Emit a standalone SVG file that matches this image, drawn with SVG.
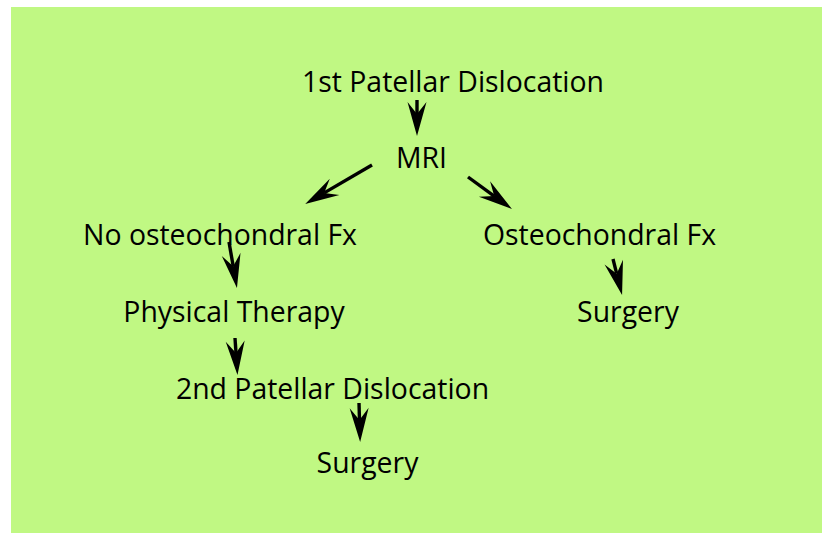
<svg xmlns="http://www.w3.org/2000/svg" width="828" height="533" viewBox="0 0 828 533">
<style>
.lbl{font-family:"Open Sans","Liberation Sans",sans-serif;font-size:28.4px;fill:#000;text-anchor:middle}
.cn{stroke:#000;stroke-width:3.4;fill:none;marker-end:url(#ah)}
</style>
<defs>
<marker id="ah" markerUnits="userSpaceOnUse" viewBox="-14 -10 36 20" refX="0" refY="0" markerWidth="36" markerHeight="20" orient="auto" overflow="visible">
<path d="M22,0 L-12,-9.5 L0,0 L-12,9.5 Z" fill="#000"/>
</marker>
</defs>
<rect x="11" y="7" width="811" height="526" fill="#c0f883"/>
<g id="connectors">
<path class="cn" d="M417,100 L417,114"/>
<path class="cn" d="M372,165 L324.2,192.9"/>
<path class="cn" d="M468,177 L494.2,196.1"/>
<path class="cn" d="M229,242 L233.2,266.3"/>
<path class="cn" d="M613,259 L616.7,273.7"/>
<path class="cn" d="M235,338 L236,353"/>
<path class="cn" d="M359,403 L359.5,420"/>
</g>
<g id="n1"><text class="lbl" x="453" y="92">1st Patellar Dislocation</text></g>
<g id="n2"><text class="lbl" x="421.5" y="168">MRI</text></g>
<g id="n3"><text class="lbl" x="220" y="245">No osteochondral Fx</text></g>
<g id="n4"><text class="lbl" x="599.5" y="245">Osteochondral Fx</text></g>
<g id="n5"><text class="lbl" x="234" y="322">Physical Therapy</text></g>
<g id="n6"><text class="lbl" x="628" y="322">Surgery</text></g>
<g id="n7"><text class="lbl" x="332.5" y="399">2nd Patellar Dislocation</text></g>
<g id="n8"><text class="lbl" x="367.5" y="473">Surgery</text></g>
</svg>
